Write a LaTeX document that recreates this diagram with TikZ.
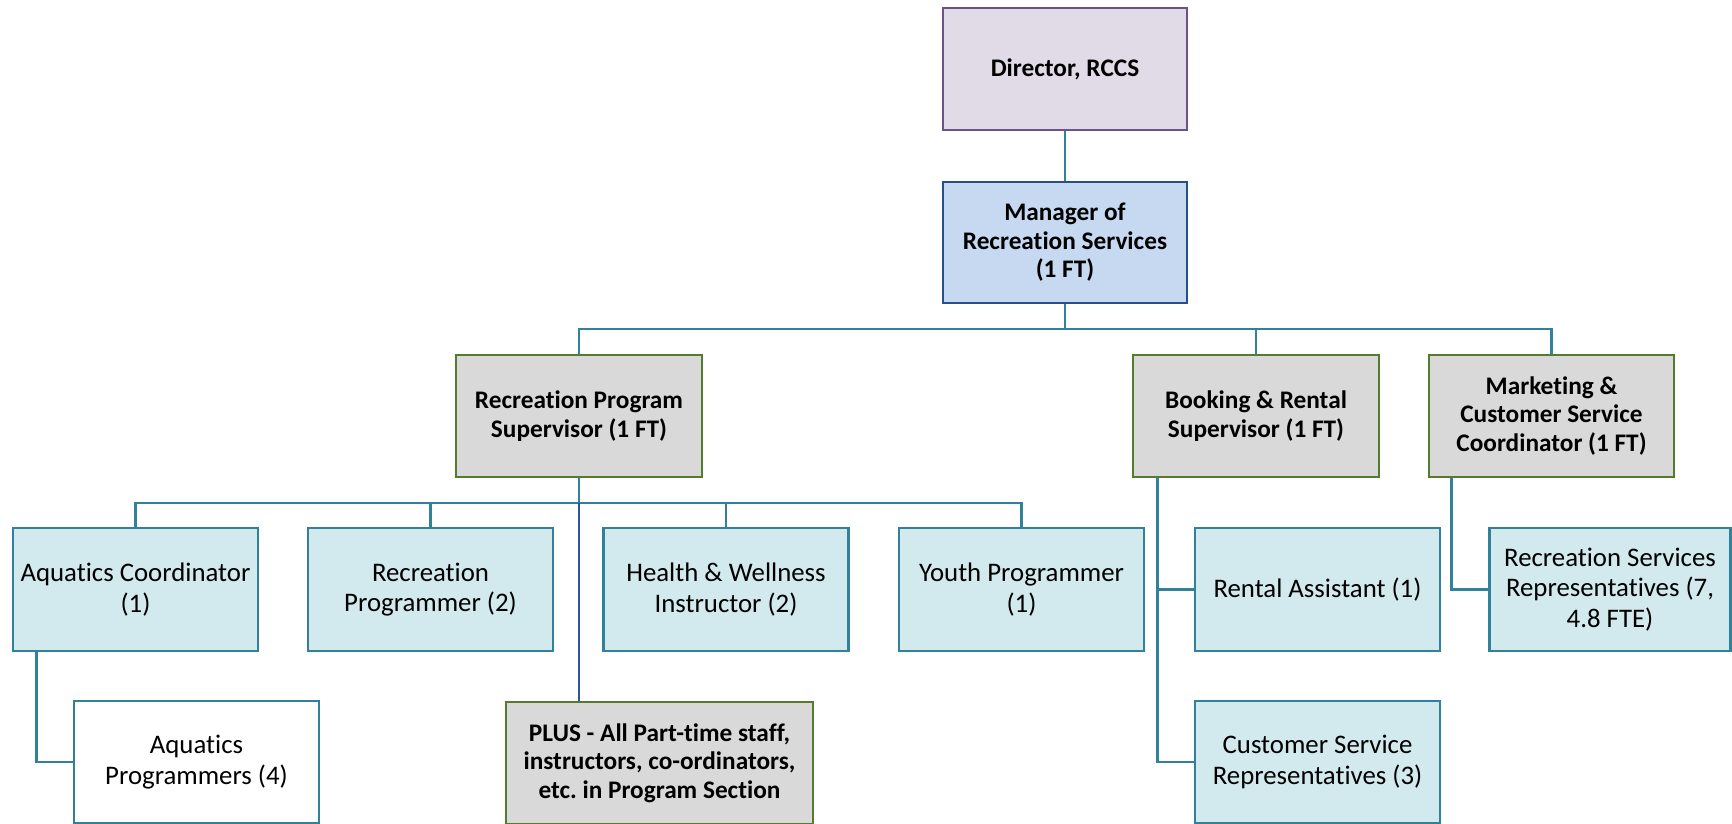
\documentclass[tikz,border=0pt]{standalone}
\usepackage{fontspec}
\setmainfont{Carlito}[RawFeature={-liga;-clig;-dlig}]
\frenchspacing
\definecolor{dirfill}{HTML}{E1DAE7}
\definecolor{dirline}{HTML}{6A5487}
\definecolor{mgrfill}{HTML}{C6D9F1}
\definecolor{mgrline}{HTML}{25508A}
\definecolor{supfill}{HTML}{D9D9D9}
\definecolor{supline}{HTML}{557B2C}
\definecolor{stafffill}{HTML}{D2E9EE}
\definecolor{staffline}{HTML}{31819A}
\definecolor{linkcol}{HTML}{31819A}
\definecolor{navylink}{HTML}{2F5496}
\tikzset{
  box/.style={draw, line width=2.6pt, inner sep=0pt, align=center,
    minimum width=245pt, minimum height=122pt},
  headbox/.style={box, font=\fontsize{25.3}{28.4}\selectfont\bfseries},
  topbox/.style={headbox, fill=dirfill, draw=dirline, minimum width=244pt},
  mgrbox/.style={headbox, fill=mgrfill, draw=mgrline, minimum width=244pt, minimum height=121pt},
  supbox/.style={headbox, fill=supfill, draw=supline},
  staffbox/.style={box, fill=stafffill, draw=staffline,
    font=\fontsize{26.8}{30.5}\selectfont},
  plainbox/.style={staffbox, fill=white},
  link/.style={draw=linkcol, line width=2.8pt},
  navyline/.style={draw=navylink, line width=2.8pt}
}
\begin{document}
\begin{tikzpicture}[x=1pt, y=-1pt]
\useasboundingbox (0,0) rectangle (1732,823);

% top of the hierarchy
\node[topbox] (dir) at (1065,69) {Director, RCCS};
\node[mgrbox] (mgr) at (1065,242.5) {Manager of\\Recreation Services\\(1 FT)};

% supervisors
\node[supbox, minimum width=246pt] (rps) at (579,416) {Recreation Program\\Supervisor (1 FT)};
\node[supbox, minimum width=246pt] (brs) at (1256,416) {Booking \& Rental\\Supervisor (1 FT)};
\node[supbox] (mcs) at (1551.5,416) {Marketing \&\\Customer Service\\Coordinator (1 FT)};

% program section staff
\node[staffbox, minimum height=123pt] (aqc) at (135.5,589.5) {Aquatics Coordinator\\(1)};
\node[staffbox, minimum height=123pt] (rpr) at (430.5,589.5) {Recreation\\Programmer (2)};
\node[staffbox, minimum height=123pt] (hwi) at (726,589.5) {Health \& Wellness\\Instructor (2)};
\node[staffbox, minimum height=123pt] (ypr) at (1021.5,589.5) {Youth Programmer\\(1)};
\node[plainbox] (aqp) at (196.5,762) {Aquatics\\Programmers (4)};
\node[supbox, minimum width=307pt] (plus) at (659.5,763) {PLUS - All Part-time staff,\\instructors, co-ordinators,\\etc. in Program Section};

% booking and marketing staff
\node[staffbox, minimum height=123pt] (ren) at (1317.5,589.5) {Rental Assistant (1)};
\node[staffbox] (csr) at (1317.5,762) {Customer Service\\Representatives (3)};
\node[staffbox, minimum width=241pt, minimum height=123pt] (rsr) at (1610,589.5) {Recreation Services\\Representatives (7,\\4.8 FTE)};

% connectors
\coordinate (busA) at (1065,329);
\coordinate (busB) at (579,503);
\coordinate (bookline) at ([xshift=26pt]brs.south west);
\coordinate (mktline) at ([xshift=24pt]mcs.south west);
\coordinate (aqline) at ([xshift=25pt]aqc.south west);

\draw[link] (dir) -- (mgr);
\draw[link] (mgr) -- (busA);
\draw[link] (rps.north) |- (busA) -| (mcs.north);
\draw[link] (brs.north) -- (brs.north |- busA);

\draw[link] (rps.south) -- (busB);
\draw[link] (aqc.north) |- (busB) -| (ypr.north);
\draw[link] (rpr.north) -- (rpr.north |- busB);
\draw[link] (hwi.north) -- (hwi.north |- busB);

\draw[link] (aqline) |- (aqp.west);
\draw[link] (bookline) |- (csr.west);
\draw[link] (ren.west) -- (ren.west -| bookline);
\draw[link] (mktline) |- (rsr.west);

\draw[navyline] (busB) -- (busB |- plus.north);
\end{tikzpicture}
\end{document}
